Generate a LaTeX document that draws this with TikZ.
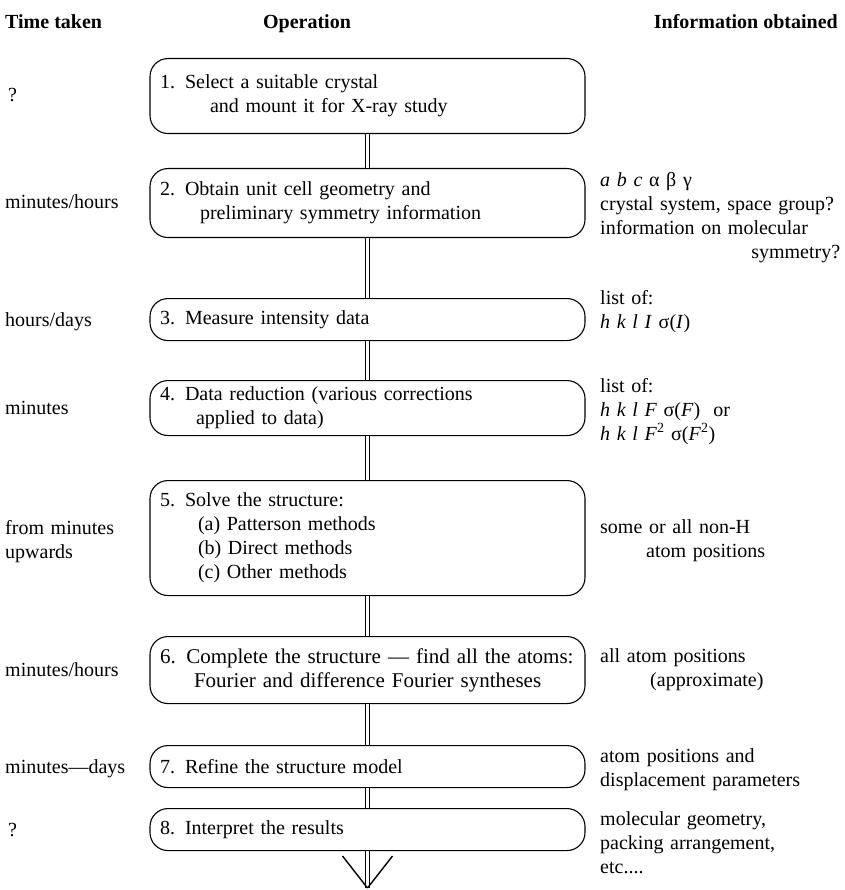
\documentclass[tikz,border=0pt]{standalone}
\usepackage{fontspec}
\setmainfont{Liberation Serif}
\usetikzlibrary{positioning}

\begin{document}
\begin{tikzpicture}[
  x=1pt, y=-1pt,
  font=\fontsize{20}{24}\selectfont,
  heading/.style={font=\fontsize{20}{24}\selectfont\bfseries, anchor=base west, inner sep=0pt},
  stepbox/.style={draw, rounded corners=18pt, line width=1.1pt, text width=415pt, inner xsep=10pt, inner ysep=0pt, align=left, anchor=north},
  timetag/.style={anchor=base west, text width=140pt, align=left, inner sep=0pt},
  infotag/.style={anchor=base west, text width=240pt, align=left, inner sep=0pt},
  link/.style={double, double distance=2.4pt, line width=1pt}
]
  \useasboundingbox (0,0) rectangle (844,890);

  % column headings
  \node (time-head) [heading] at (5,29) {Time taken};
  \node (op-head)   [heading, anchor=base] at (307,29) {Operation};
  \node (info-head) [heading, anchor=base east] at (838,29) {Information obtained};

  % operations
  \node (select) [stepbox, minimum height=75pt] at (367.5,58) {1. Select a suitable crystal\\\hspace*{50pt}and mount it for X-ray study};
  \node (cell) [stepbox, minimum height=69pt] at (367.5,168) {2. Obtain unit cell geometry and\\\hspace*{40pt}preliminary symmetry information};
  \node (measure) [stepbox, minimum height=42pt] at (367.5,298) {3. Measure intensity data};
  \node (reduce) [stepbox, minimum height=55pt] at (367.5,380) {4. Data reduction (various corrections\\\hspace*{36pt}applied to data)};
  \node (solve) [stepbox, minimum height=115pt] at (367.5,480) {5. Solve the structure:\\\hspace*{38pt}(a) Patterson methods\\\hspace*{38pt}(b) Direct methods\\\hspace*{38pt}(c) Other methods};
  \node (complete) [stepbox, minimum height=67pt, font=\fontsize{21}{24}\selectfont] at (367.5,636) {6. Complete the structure --- find all the atoms:\\\hspace*{34pt}Fourier and difference Fourier syntheses};
  \node (refine) [stepbox, minimum height=42pt] at (367.5,745) {7. Refine the structure model};
  \node (interpret) [stepbox, minimum height=42pt] at (367.5,808) {8. Interpret the results};

  \draw[link] (select) -- (cell);
  \draw[link] (cell) -- (measure);
  \draw[link] (measure) -- (reduce);
  \draw[link] (reduce) -- (solve);
  \draw[link] (solve) -- (complete);
  \draw[link] (complete) -- (refine);
  \draw[link] (refine) -- (interpret);

  \coordinate (tip) at (367.5,888);
  \draw[link] (interpret) -- (tip);
  \draw[line width=1.4pt] (tip) -- ++(-25,-32);
  \draw[line width=1.4pt] (tip) -- ++(25,-32);

  % time taken
  \node (t1) [timetag] at (8,102) {?};
  \node (t2) [timetag] at (5,209) {minutes/hours};
  \node (t3) [timetag] at (5,326) {hours/days};
  \node (t4) [timetag] at (5,414) {minutes};
  \node (t5) [timetag] at (5,534) {from minutes\\upwards};
  \node (t6) [timetag] at (5,676) {minutes/hours};
  \node (t7) [timetag] at (5,773) {minutes---days};
  \node (t8) [timetag] at (8,836) {?};

  % information obtained
  \node (i2) [infotag] at (600,187) {\textit{a b c} α β γ\\crystal system, space group?\\information on molecular\\\hspace*{\fill}symmetry?};
  \node (i3) [infotag] at (600,304) {list of:\\\textit{h k l I} σ(\textit{I})};
  \node (i4) [infotag] at (600,392) {list of:\\\textit{h k l F} σ(\textit{F})\ \ or\\\textit{h k l F}\textsuperscript{2} σ(\textit{F}\textsuperscript{2})};
  \node (i5) [infotag] at (600,533) {some or all non-H\\\hspace*{46pt}atom positions};
  \node (i6) [infotag] at (600,662) {all atom positions\\\hspace*{50pt}(approximate)};
  \node (i7) [infotag] at (600,762) {atom positions and\\displacement parameters};
  \node (i8) [infotag] at (600,825) {molecular geometry,\\packing arrangement,\\etc....};
\end{tikzpicture}
\end{document}
